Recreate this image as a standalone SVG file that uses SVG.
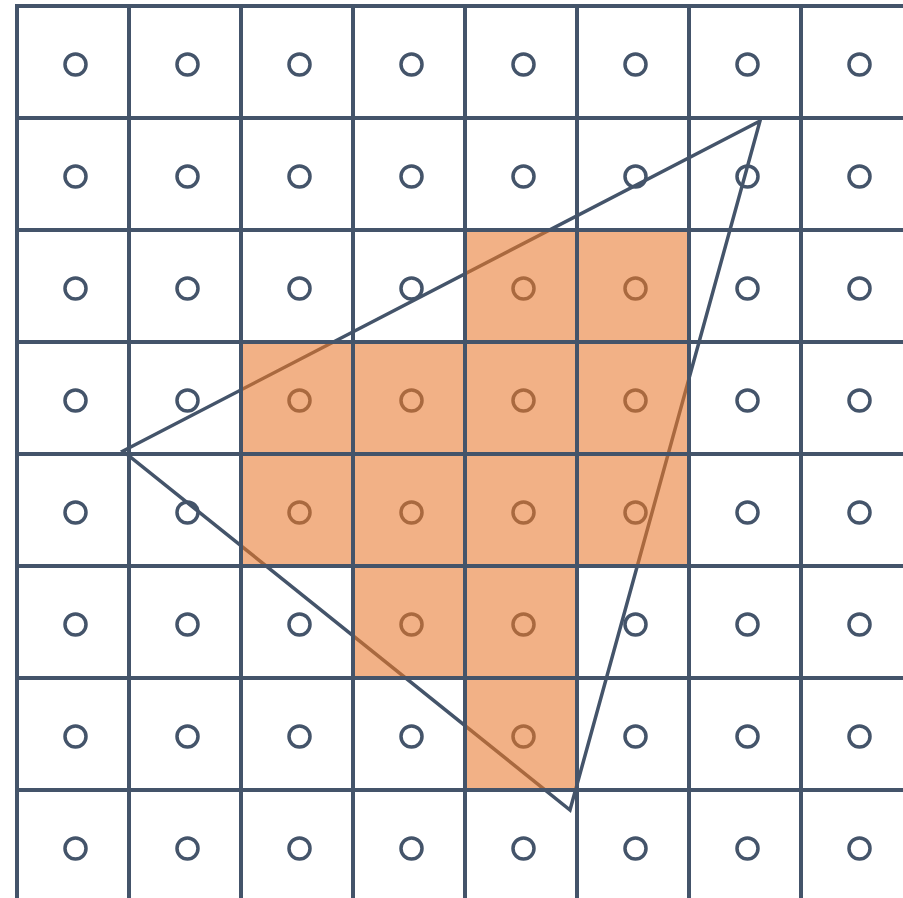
<svg xmlns="http://www.w3.org/2000/svg" width="903" height="898" viewBox="0 0 903 898">
<style>
.c{fill:none;stroke:#44546A;stroke-width:3.5}
.cb{fill:none;stroke:#A9693F;stroke-width:3.5}
.g{stroke:#44546A;stroke-width:4;fill:none}
.t{fill:none;stroke:#44546A;stroke-width:3.5;stroke-linejoin:miter}
.tb{fill:none;stroke:#A9693F;stroke-width:3.5}
.o{fill:#F2B186}
</style>
<defs>
<path id="orange" d="M465 230H689V566H577V790H465V678H353V566H241V342H465Z"/>
<clipPath id="oc"><use href="#orange"/></clipPath>
<polygon id="tri" points="760,121 123,451 570,810"/>
</defs>
<rect width="903" height="898" fill="#fff"/>
<g id="circles">
<circle class="c" cx="75.5" cy="64.5" r="10.5"/><circle class="c" cx="187.5" cy="64.5" r="10.5"/><circle class="c" cx="299.5" cy="64.5" r="10.5"/><circle class="c" cx="411.5" cy="64.5" r="10.5"/><circle class="c" cx="523.5" cy="64.5" r="10.5"/><circle class="c" cx="635.5" cy="64.5" r="10.5"/><circle class="c" cx="747.5" cy="64.5" r="10.5"/><circle class="c" cx="859.5" cy="64.5" r="10.5"/>
<circle class="c" cx="75.5" cy="176.5" r="10.5"/><circle class="c" cx="187.5" cy="176.5" r="10.5"/><circle class="c" cx="299.5" cy="176.5" r="10.5"/><circle class="c" cx="411.5" cy="176.5" r="10.5"/><circle class="c" cx="523.5" cy="176.5" r="10.5"/><circle class="c" cx="635.5" cy="176.5" r="10.5"/><circle class="c" cx="747.5" cy="176.5" r="10.5"/><circle class="c" cx="859.5" cy="176.5" r="10.5"/>
<circle class="c" cx="75.5" cy="288.5" r="10.5"/><circle class="c" cx="187.5" cy="288.5" r="10.5"/><circle class="c" cx="299.5" cy="288.5" r="10.5"/><circle class="c" cx="411.5" cy="288.5" r="10.5"/><circle class="c" cx="747.5" cy="288.5" r="10.5"/><circle class="c" cx="859.5" cy="288.5" r="10.5"/>
<circle class="c" cx="75.5" cy="400.5" r="10.5"/><circle class="c" cx="187.5" cy="400.5" r="10.5"/><circle class="c" cx="747.5" cy="400.5" r="10.5"/><circle class="c" cx="859.5" cy="400.5" r="10.5"/>
<circle class="c" cx="75.5" cy="512.5" r="10.5"/><circle class="c" cx="187.5" cy="512.5" r="10.5"/><circle class="c" cx="747.5" cy="512.5" r="10.5"/><circle class="c" cx="859.5" cy="512.5" r="10.5"/>
<circle class="c" cx="75.5" cy="624.5" r="10.5"/><circle class="c" cx="187.5" cy="624.5" r="10.5"/><circle class="c" cx="299.5" cy="624.5" r="10.5"/><circle class="c" cx="635.5" cy="624.5" r="10.5"/><circle class="c" cx="747.5" cy="624.5" r="10.5"/><circle class="c" cx="859.5" cy="624.5" r="10.5"/>
<circle class="c" cx="75.5" cy="736.5" r="10.5"/><circle class="c" cx="187.5" cy="736.5" r="10.5"/><circle class="c" cx="299.5" cy="736.5" r="10.5"/><circle class="c" cx="411.5" cy="736.5" r="10.5"/><circle class="c" cx="635.5" cy="736.5" r="10.5"/><circle class="c" cx="747.5" cy="736.5" r="10.5"/><circle class="c" cx="859.5" cy="736.5" r="10.5"/>
<circle class="c" cx="75.5" cy="848.5" r="10.5"/><circle class="c" cx="187.5" cy="848.5" r="10.5"/><circle class="c" cx="299.5" cy="848.5" r="10.5"/><circle class="c" cx="411.5" cy="848.5" r="10.5"/><circle class="c" cx="523.5" cy="848.5" r="10.5"/><circle class="c" cx="635.5" cy="848.5" r="10.5"/><circle class="c" cx="747.5" cy="848.5" r="10.5"/><circle class="c" cx="859.5" cy="848.5" r="10.5"/>
</g>
<g id="triangle"><use href="#tri" class="t"/></g>
<g id="covered">
<use href="#orange" class="o"/>
<circle class="cb" cx="523.5" cy="288.5" r="10.5"/><circle class="cb" cx="635.5" cy="288.5" r="10.5"/>
<circle class="cb" cx="299.5" cy="400.5" r="10.5"/><circle class="cb" cx="411.5" cy="400.5" r="10.5"/><circle class="cb" cx="523.5" cy="400.5" r="10.5"/><circle class="cb" cx="635.5" cy="400.5" r="10.5"/>
<circle class="cb" cx="299.5" cy="512.5" r="10.5"/><circle class="cb" cx="411.5" cy="512.5" r="10.5"/><circle class="cb" cx="523.5" cy="512.5" r="10.5"/><circle class="cb" cx="635.5" cy="512.5" r="10.5"/>
<circle class="cb" cx="411.5" cy="624.5" r="10.5"/><circle class="cb" cx="523.5" cy="624.5" r="10.5"/>
<circle class="cb" cx="523.5" cy="736.5" r="10.5"/>
<use href="#tri" class="tb" clip-path="url(#oc)"/>
</g>
<g id="grid" class="g">
<path d="M17 4V898M129 4V898M241 4V898M353 4V898M465 4V898M577 4V898M689 4V898M801 4V898"/>
<path d="M15 6H903M15 118H903M15 230H903M15 342H903M15 454H903M15 566H903M15 678H903M15 790H903"/>
</g>
</svg>
